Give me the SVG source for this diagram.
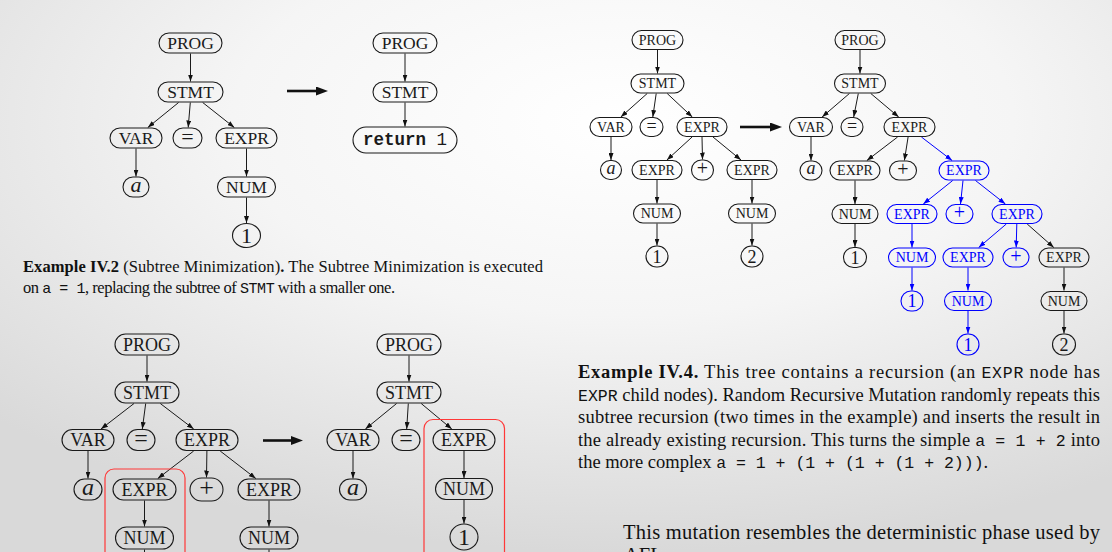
<svg xmlns="http://www.w3.org/2000/svg" width="1112" height="552" viewBox="0 0 1112 552">
<defs>
<radialGradient id="bg" cx="0.56" cy="0.22" r="0.78">
<stop offset="0" stop-color="#ffffff"/>
<stop offset="0.45" stop-color="#f5f5f5"/>
<stop offset="1" stop-color="#d9d9d9"/>
</radialGradient>
<marker id="ah" viewBox="0 0 7 5" refX="7" refY="2.5" markerWidth="7" markerHeight="5" markerUnits="userSpaceOnUse" orient="auto"><path d="M0,0 L7,2.5 L0,5 z" fill="#111"/></marker>
<marker id="ahb" viewBox="0 0 7 5" refX="7" refY="2.5" markerWidth="7" markerHeight="5" markerUnits="userSpaceOnUse" orient="auto"><path d="M0,0 L7,2.5 L0,5 z" fill="#0000ff"/></marker>
<marker id="big" viewBox="0 0 12 9" refX="2" refY="4.5" markerWidth="12" markerHeight="9" markerUnits="userSpaceOnUse" orient="auto"><path d="M0,0 L12,4.5 L0,9 z" fill="#111"/></marker>
<style>
.n{fill:none;stroke:#1a1a1a;stroke-width:1.1}
.nb{fill:none;stroke:#0000ff;stroke-width:1.1}
.t{font-family:"Liberation Serif","Times New Roman",serif;text-anchor:middle;fill:#1a1a1a}
.b{fill:#0000ff}
.i{font-style:italic}
.s17{font-size:17.5px}.s175{font-size:18px}.s135{font-size:14px}
.e{stroke:#1a1a1a;stroke-width:1;fill:none;marker-end:url(#ah)}
.eb{stroke:#0000ff;stroke-width:1;fill:none;marker-end:url(#ahb)}
.en{stroke:#1a1a1a;stroke-width:1;fill:none}
.big{stroke:#111;stroke-width:2.6;marker-end:url(#big)}
.red{fill:none;stroke:#ff3838;stroke-width:1.2}
.cap{font-family:"Liberation Serif","Times New Roman",serif;fill:#111}
.mono{font-family:"Liberation Mono","Courier New",monospace}
</style>
</defs>
<rect x="0" y="0" width="1112" height="552" fill="url(#bg)"/>

<g id="connectors">
<!-- tree 1 -->
<line class="e" x1="190.5" y1="53.5" x2="190.5" y2="81.5"/>
<line class="e" x1="178.6" y1="102.5" x2="147.8" y2="127.5"/>
<line class="e" x1="190.3" y1="102.5" x2="188.2" y2="127.5"/>
<line class="e" x1="202.7" y1="102.5" x2="234.3" y2="127.5"/>
<line class="e" x1="136" y1="148.5" x2="136" y2="176.5"/>
<line class="e" x1="246.5" y1="148.5" x2="246.5" y2="176.5"/>
<line class="e" x1="246.5" y1="197.5" x2="246.5" y2="223"/>
<line class="e" x1="405" y1="53.5" x2="405" y2="81.5"/>
<line class="e" x1="405" y1="102.5" x2="405" y2="126.5"/>
<line class="big" x1="287" y1="91" x2="318" y2="91"/>
<!-- tree 2 -->
<line class="e" x1="147" y1="355.5" x2="147" y2="381.5"/>
<line class="e" x1="134" y1="403.5" x2="101" y2="429"/>
<line class="e" x1="145.7" y1="403.5" x2="142.3" y2="429"/>
<line class="e" x1="160.3" y1="403.5" x2="193.7" y2="429"/>
<line class="e" x1="88" y1="451" x2="88" y2="478.5"/>
<line class="e" x1="193.7" y1="451" x2="157.8" y2="478.5"/>
<line class="e" x1="206.9" y1="451" x2="206.5" y2="477.5"/>
<line class="e" x1="220.2" y1="451" x2="255.8" y2="478.5"/>
<line class="e" x1="144.5" y1="500.5" x2="144.5" y2="526.5"/>
<line class="e" x1="269" y1="500.5" x2="269" y2="526.5"/>
<line class="en" x1="144.5" y1="549.5" x2="144.5" y2="560"/>
<line class="en" x1="269" y1="549.5" x2="269" y2="560"/>
<line class="e" x1="409" y1="355.5" x2="409" y2="381.5"/>
<line class="e" x1="396.6" y1="403.5" x2="365.4" y2="429"/>
<line class="e" x1="408.3" y1="403.5" x2="406.7" y2="429"/>
<line class="e" x1="421.2" y1="403.5" x2="451.8" y2="429"/>
<line class="e" x1="353" y1="451" x2="353" y2="478.5"/>
<line class="e" x1="464" y1="451" x2="464" y2="478"/>
<line class="e" x1="464" y1="500" x2="464" y2="523.5"/>
<line class="big" x1="263" y1="440.5" x2="293" y2="440.5"/>
<!-- tree 3 left -->
<line class="e" x1="657.5" y1="50" x2="657.5" y2="73.5"/>
<line class="e" x1="647.2" y1="93.5" x2="620.8" y2="117"/>
<line class="e" x1="656.2" y1="93.5" x2="652.8" y2="117"/>
<line class="e" x1="667.2" y1="93.5" x2="692.3" y2="117"/>
<line class="e" x1="611" y1="137" x2="611" y2="160"/>
<line class="e" x1="692.1" y1="137" x2="666.9" y2="160"/>
<line class="e" x1="702" y1="137" x2="702.5" y2="159.5"/>
<line class="e" x1="713" y1="137" x2="741" y2="160"/>
<line class="e" x1="657" y1="180" x2="657" y2="203.5"/>
<line class="e" x1="752" y1="180" x2="752" y2="203.5"/>
<line class="e" x1="657" y1="223.5" x2="657" y2="245.5"/>
<line class="e" x1="752" y1="223.5" x2="752" y2="245.5"/>
<line class="big" x1="740" y1="127" x2="772" y2="127"/>
<!-- tree 3 right -->
<line class="e" x1="860" y1="50" x2="860" y2="73.5"/>
<line class="e" x1="849.4" y1="93.5" x2="822.1" y2="117"/>
<line class="e" x1="858.3" y1="93.5" x2="853.7" y2="117"/>
<line class="e" x1="870.8" y1="93.5" x2="898.7" y2="117"/>
<line class="e" x1="811" y1="137" x2="811" y2="160.5"/>
<line class="e" x1="897.6" y1="137" x2="866.9" y2="160.5"/>
<line class="e" x1="908.1" y1="137" x2="904.4" y2="160.5"/>
<line class="eb" x1="921.4" y1="137" x2="952.1" y2="160.5"/>
<line class="e" x1="855" y1="180.5" x2="855" y2="204"/>
<line class="e" x1="855" y1="224" x2="855" y2="247"/>
<line class="eb" x1="952.7" y1="180.5" x2="923.3" y2="204"/>
<line class="eb" x1="963" y1="180.5" x2="960.5" y2="204"/>
<line class="eb" x1="975.5" y1="180.5" x2="1005.4" y2="204"/>
<line class="eb" x1="912" y1="224" x2="912" y2="247.5"/>
<line class="eb" x1="912" y1="267.5" x2="912" y2="290.5"/>
<line class="eb" x1="1006.3" y1="224" x2="978.7" y2="247.5"/>
<line class="eb" x1="1016.8" y1="224" x2="1016.2" y2="247.5"/>
<line class="e" x1="1027.2" y1="224" x2="1053.8" y2="247.5"/>
<line class="eb" x1="968" y1="267.5" x2="968" y2="290.5"/>
<line class="eb" x1="968" y1="311" x2="968" y2="333.5"/>
<line class="e" x1="1064" y1="267.5" x2="1064" y2="290.5"/>
<line class="e" x1="1064" y1="311" x2="1064" y2="333.5"/>
</g>

<!-- Tree 1 -->
<g id="t1_prog"><rect class="n" x="159" y="33" width="63" height="20" rx="10"/><text class="t s17" x="190.5" y="49">PROG</text></g>
<g id="t1_stmt"><rect class="n" x="158" y="82" width="65" height="20" rx="10"/><text class="t s17" x="190.5" y="98">STMT</text></g>
<g id="t1_var"><rect class="n" x="110" y="128" width="52" height="20" rx="10"/><text class="t s17" x="136" y="144">VAR</text></g>
<g id="t1_eq"><rect class="n" x="173" y="128" width="29" height="20" rx="10"/><text class="t" font-size="22" x="187.5" y="143.6">=</text></g>
<g id="t1_expr"><rect class="n" x="216" y="128" width="61" height="20" rx="10"/><text class="t s17" x="246.5" y="144">EXPR</text></g>
<g id="t1_a"><rect class="n" x="123" y="177" width="26" height="20" rx="10"/><text class="t i" font-size="22" x="136" y="191.7">a</text></g>
<g id="t1_num"><rect class="n" x="217.5" y="177" width="58" height="20" rx="10"/><text class="t s17" x="246.5" y="193">NUM</text></g>
<g id="t1_one"><ellipse class="n" cx="246.5" cy="235.5" rx="14" ry="12"/><text class="t" font-size="22" x="246.5" y="242.9">1</text></g>
<g id="t1r_prog"><rect class="n" x="373" y="33" width="64" height="20" rx="10"/><text class="t s17" x="405" y="49">PROG</text></g>
<g id="t1r_stmt"><rect class="n" x="373" y="82" width="64" height="20" rx="10"/><text class="t s17" x="405" y="98">STMT</text></g>
<g id="t1r_ret"><rect class="n" x="353" y="127" width="104" height="26" rx="13"/><text class="t mono" font-size="17.5" x="405" y="145.3"><tspan font-weight="bold">return</tspan> 1</text></g>

<g id="caption_iv2">
<text class="cap" font-size="16.5" x="23" y="272" textLength="520" lengthAdjust="spacing"><tspan font-weight="bold">Example IV.2</tspan> (Subtree Minimization)<tspan font-weight="bold">.</tspan> The Subtree Minimization is executed</text>
<text class="cap" font-size="16.5" x="23" y="293" textLength="372" lengthAdjust="spacing">on <tspan class="mono" font-size="15">a = 1</tspan>, replacing the subtree of <tspan class="mono" font-size="15">STMT</tspan> with a smaller one.</text>
</g>

<!-- Tree 2 -->
<g id="t2_prog"><rect class="n" x="115" y="334" width="64" height="21" rx="10.5"/><text class="t s175" x="147" y="350.7">PROG</text></g>
<g id="t2_stmt"><rect class="n" x="115" y="382" width="64" height="21" rx="10.5"/><text class="t s175" x="147" y="398.7">STMT</text></g>
<g id="t2_var"><rect class="n" x="62" y="429.5" width="52" height="21" rx="10.5"/><text class="t s175" x="88" y="446.2">VAR</text></g>
<g id="t2_eq"><rect class="n" x="127" y="429.5" width="28" height="21" rx="10.5"/><text class="t" font-size="24" x="141" y="446.1">=</text></g>
<g id="t2_expr"><rect class="n" x="176" y="429.5" width="62" height="21" rx="10.5"/><text class="t s175" x="207" y="446.2">EXPR</text></g>
<g id="t2_a"><rect class="n" x="74" y="479" width="28" height="21" rx="10.5"/><text class="t i" font-size="24" x="88" y="494.7">a</text></g>
<g id="t2_e1"><rect class="n" x="113" y="479" width="63" height="21" rx="10.5"/><text class="t s175" x="144.5" y="495.7">EXPR</text></g>
<g id="t2_plus"><rect class="n" x="190" y="478" width="33" height="23" rx="11.5"/><text class="t" font-size="26" x="206.5" y="496.1">+</text></g>
<g id="t2_e3"><rect class="n" x="238" y="479" width="62" height="21" rx="10.5"/><text class="t s175" x="269" y="495.7">EXPR</text></g>
<g id="t2_n1"><rect class="n" x="115.5" y="527" width="58" height="22" rx="11"/><text class="t s175" x="144.5" y="544.2">NUM</text></g>
<g id="t2_n3"><rect class="n" x="240" y="527" width="58" height="22" rx="11"/><text class="t s175" x="269" y="544.2">NUM</text></g>
<g id="t2r_prog"><rect class="n" x="377" y="334" width="64" height="21" rx="10.5"/><text class="t s175" x="409" y="350.7">PROG</text></g>
<g id="t2r_stmt"><rect class="n" x="377" y="382" width="64" height="21" rx="10.5"/><text class="t s175" x="409" y="398.7">STMT</text></g>
<g id="t2r_var"><rect class="n" x="327" y="429.5" width="52" height="21" rx="10.5"/><text class="t s175" x="353" y="446.2">VAR</text></g>
<g id="t2r_eq"><rect class="n" x="392" y="429.5" width="28" height="21" rx="10.5"/><text class="t" font-size="24" x="406" y="446.1">=</text></g>
<g id="t2r_expr"><rect class="n" x="433" y="429.5" width="62" height="21" rx="10.5"/><text class="t s175" x="464" y="446.2">EXPR</text></g>
<g id="t2r_a"><rect class="n" x="339.5" y="479" width="27" height="21" rx="10.5"/><text class="t i" font-size="24" x="353" y="494.7">a</text></g>
<g id="t2r_num"><rect class="n" x="435.5" y="478.5" width="57" height="21" rx="10.5"/><text class="t s175" x="464" y="495.2">NUM</text></g>
<g id="t2r_one"><ellipse class="n" cx="464" cy="537" rx="14" ry="13"/><text class="t" font-size="24" x="464" y="545.1">1</text></g>
<g id="red_boxes">
<rect class="red" x="105" y="469" width="80" height="110" rx="9"/>
<rect class="red" x="424" y="419.5" width="80.5" height="150" rx="9"/>
</g>

<!-- Tree 3 left -->
<g id="l_prog"><rect class="n" x="632" y="30.5" width="51" height="19" rx="9.5"/><text class="t s135" x="657.5" y="44.7">PROG</text></g>
<g id="l_stmt"><rect class="n" x="631" y="74" width="53" height="19" rx="9.5"/><text class="t s135" x="657.5" y="88.2">STMT</text></g>
<g id="l_var"><rect class="n" x="590" y="117.5" width="42" height="19" rx="9.5"/><text class="t s135" x="611" y="131.7">VAR</text></g>
<g id="l_eq"><rect class="n" x="640" y="117.5" width="23" height="19" rx="9.5"/><text class="t" font-size="18" x="651.5" y="131.6">=</text></g>
<g id="l_expr"><rect class="n" x="677" y="117.5" width="50" height="19" rx="9.5"/><text class="t s135" x="702" y="131.7">EXPR</text></g>
<g id="l_a"><rect class="n" x="600.5" y="160.5" width="21" height="19" rx="9.5"/><text class="t i" font-size="18" x="611" y="173.9">a</text></g>
<g id="l_e1"><rect class="n" x="632" y="160.5" width="50" height="19" rx="9.5"/><text class="t s135" x="657" y="174.7">EXPR</text></g>
<g id="l_plus"><rect class="n" x="691.5" y="160" width="22" height="20" rx="10"/><text class="t" font-size="20" x="702.5" y="175.1">+</text></g>
<g id="l_e3"><rect class="n" x="727" y="160.5" width="50" height="19" rx="9.5"/><text class="t s135" x="752" y="174.7">EXPR</text></g>
<g id="l_n1"><rect class="n" x="633.5" y="204" width="47" height="19" rx="9.5"/><text class="t s135" x="657" y="218.2">NUM</text></g>
<g id="l_n3"><rect class="n" x="728.5" y="204" width="47" height="19" rx="9.5"/><text class="t s135" x="752" y="218.2">NUM</text></g>
<g id="l_one"><rect class="n" x="646" y="246" width="22" height="21" rx="10.5"/><text class="t" font-size="18" x="657" y="262.6">1</text></g>
<g id="l_two"><rect class="n" x="741" y="246" width="22" height="21" rx="10.5"/><text class="t" font-size="18" x="752" y="262.6">2</text></g>

<!-- Tree 3 right -->
<g id="r_prog"><rect class="n" x="835" y="30.5" width="50" height="19" rx="9.5"/><text class="t s135" x="860" y="44.7">PROG</text></g>
<g id="r_stmt"><rect class="n" x="834.5" y="74" width="51" height="19" rx="9.5"/><text class="t s135" x="860" y="88.2">STMT</text></g>
<g id="r_var"><rect class="n" x="789.5" y="117.5" width="43" height="19" rx="9.5"/><text class="t s135" x="811" y="131.7">VAR</text></g>
<g id="r_eq"><rect class="n" x="841" y="117.5" width="22" height="19" rx="9.5"/><text class="t" font-size="18" x="852" y="131.6">=</text></g>
<g id="r_expr"><rect class="n" x="884" y="117.5" width="51" height="19" rx="9.5"/><text class="t s135" x="909.5" y="131.7">EXPR</text></g>
<g id="r_a"><rect class="n" x="800" y="161" width="22" height="19" rx="9.5"/><text class="t i" font-size="18" x="811" y="174.4">a</text></g>
<g id="r_e1"><rect class="n" x="830" y="161" width="50" height="19" rx="9.5"/><text class="t s135" x="855" y="175.2">EXPR</text></g>
<g id="r_p1"><rect class="n" x="889.5" y="161" width="27" height="19" rx="9.5"/><text class="t" font-size="20" x="903" y="175.6">+</text></g>
<g id="r_e2"><rect class="nb" x="939" y="161" width="50" height="19" rx="9.5"/><text class="t s135 b" x="964" y="175.2">EXPR</text></g>
<g id="r_n1"><rect class="n" x="832" y="204.5" width="46" height="19" rx="9.5"/><text class="t s135" x="855" y="218.7">NUM</text></g>
<g id="r_e21"><rect class="nb" x="887" y="204.5" width="50" height="19" rx="9.5"/><text class="t s135 b" x="912" y="218.7">EXPR</text></g>
<g id="r_p2"><rect class="nb" x="946" y="204.5" width="27" height="19" rx="9.5"/><text class="t b" font-size="20" x="959.5" y="219.1">+</text></g>
<g id="r_e23"><rect class="nb" x="992" y="204.5" width="50" height="19" rx="9.5"/><text class="t s135 b" x="1017" y="218.7">EXPR</text></g>
<g id="r_o1"><rect class="n" x="843.5" y="247.5" width="23" height="20" rx="10"/><text class="t" font-size="18" x="855" y="263.6">1</text></g>
<g id="r_n21"><rect class="nb" x="888.5" y="248" width="47" height="19" rx="9.5"/><text class="t s135 b" x="912" y="262.2">NUM</text></g>
<g id="r_e231"><rect class="nb" x="943" y="248" width="50" height="19" rx="9.5"/><text class="t s135 b" x="968" y="262.2">EXPR</text></g>
<g id="r_p3"><rect class="nb" x="1003" y="248" width="26" height="19" rx="9.5"/><text class="t b" font-size="20" x="1016" y="262.6">+</text></g>
<g id="r_e233"><rect class="n" x="1039" y="248" width="50" height="19" rx="9.5"/><text class="t s135" x="1064" y="262.2">EXPR</text></g>
<g id="r_o2"><rect class="nb" x="901" y="291" width="22" height="20" rx="10"/><text class="t b" font-size="18" x="912" y="307.1">1</text></g>
<g id="r_n231"><rect class="nb" x="944.5" y="291.5" width="47" height="19" rx="9.5"/><text class="t s135 b" x="968" y="305.7">NUM</text></g>
<g id="r_n233"><rect class="n" x="1041" y="291.5" width="46" height="19" rx="9.5"/><text class="t s135" x="1064" y="305.7">NUM</text></g>
<g id="r_o3"><rect class="nb" x="957" y="334" width="22" height="21" rx="10.5"/><text class="t b" font-size="18" x="968" y="350.6">1</text></g>
<g id="r_two"><rect class="n" x="1052.5" y="334" width="23" height="21" rx="10.5"/><text class="t" font-size="18" x="1064" y="350.6">2</text></g>

<g id="caption_iv4">
<text class="cap" font-size="18.5" x="578" y="378" textLength="522" lengthAdjust="spacing"><tspan font-weight="bold">Example IV.4.</tspan> This tree contains a recursion (an <tspan class="mono" font-size="16.5">EXPR</tspan> node has</text>
<text class="cap" font-size="18.5" x="578" y="400.5" textLength="522" lengthAdjust="spacing"><tspan class="mono" font-size="16.5">EXPR</tspan> child nodes). Random Recursive Mutation randomly repeats this</text>
<text class="cap" font-size="18.5" x="578" y="423" textLength="522" lengthAdjust="spacing">subtree recursion (two times in the example) and inserts the result in</text>
<text class="cap" font-size="18.5" x="578" y="445.5" textLength="522" lengthAdjust="spacing">the already existing recursion. This turns the simple <tspan class="mono" font-size="16.5">a = 1 + 2</tspan> into</text>
<text class="cap" font-size="18.5" x="578" y="468">the more complex <tspan class="mono" font-size="16.5">a = 1 + (1 + (1 + (1 + 2)))</tspan>.</text>
</g>
<g id="paragraph">
<text class="cap" font-size="20.5" x="623" y="539" textLength="477" lengthAdjust="spacing">This mutation resembles the deterministic phase used by</text>
<text class="cap" font-size="20.5" x="624" y="562">AFL</text>
</g>
</svg>
